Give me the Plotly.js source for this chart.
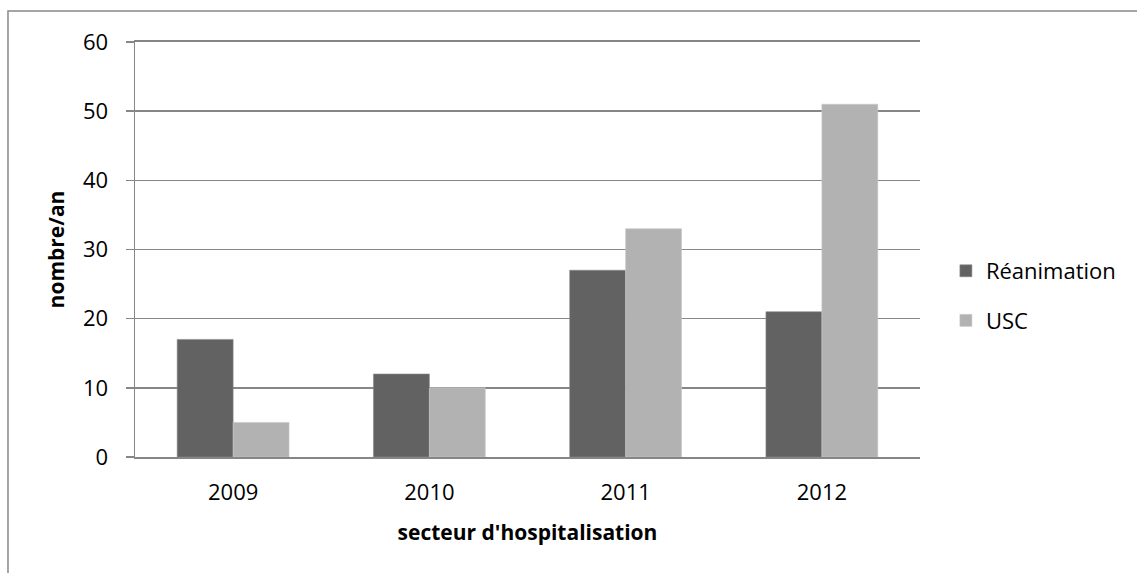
<!DOCTYPE html>
<html>
<head>
<meta charset="utf-8">
<script src="https://cdn.plot.ly/plotly-3.0.1.min.js"></script>
<style>html,body{margin:0;padding:0;background:#fff;}#chart{width:1137px;height:573px;}</style>
</head>
<body>
<div id="chart"></div>
<script>
var years = ['2009', '2010', '2011', '2012'];
var reanimation = [17, 12, 27, 21];
var usc = [5, 10, 33, 51];
var seriesNames = ['Réanimation', 'USC'];
var yTicks = [0, 10, 20, 30, 40, 50, 60];

var font = '"Open Sans", "Noto Sans", sans-serif';
var data = [
  {type: 'bar', name: seriesNames[0], x: years, y: reanimation, legendgroup: 'a',
   marker: {color: '#626262', line: {color: '#8a8a8a', width: 0.6}}},
  {type: 'bar', name: seriesNames[1], x: years, y: usc, legendgroup: 'b',
   marker: {color: '#b2b2b2', line: {color: '#c8c8c8', width: 0.6}}}
];
var layout = {
  width: 1137, height: 573,
  margin: {l: 135, r: 217, t: 42, b: 116},
  paper_bgcolor: '#ffffff', plot_bgcolor: '#ffffff',
  barmode: 'group', bargap: 0.43, bargroupgap: 0,
  font: {family: font, size: 22, color: '#000'},
  xaxis: {
    type: 'category', showgrid: false, showline: true, mirror: true, linecolor: '#868686', linewidth: 2,
    ticks: '', tickfont: {family: font, size: 22}, ticklabelstandoff: 15,
    title: {text: "secteur d'hospitalisation", font: {family: font, size: 21, weight: 'bold'}, standoff: 20}
  },
  yaxis: {
    range: [0, 60], tickvals: yTicks, showgrid: true, gridcolor: '#868686', gridwidth: 1.5,
    showline: true, linecolor: '#868686', linewidth: 1.5, zeroline: false,
    ticks: 'outside', ticklen: 8, tickcolor: '#868686', tickwidth: 1.5,
    tickfont: {family: font, size: 22}, ticklabelstandoff: 13,
    title: {text: 'nombre/an', font: {family: font, size: 21, weight: 'bold'}, standoff: 12}
  },
  showlegend: true,
  legend: {x: 1.033, y: 0.388, xanchor: 'left', yanchor: 'middle', tracegroupgap: 18,
    font: {family: font, size: 22}, bgcolor: 'rgba(0,0,0,0)', itemwidth: 30},
  shapes: [
    {type: 'rect', xref: 'paper', yref: 'paper', x0: -0.1618, x1: 1.4, y0: -0.4, y1: 1.0747,
     line: {color: '#888888', width: 1.5}, fillcolor: 'rgba(0,0,0,0)', layer: 'below'}
  ]
};
Plotly.newPlot('chart', data, layout, {displayModeBar: false, staticPlot: true});
</script>
</body>
</html>
